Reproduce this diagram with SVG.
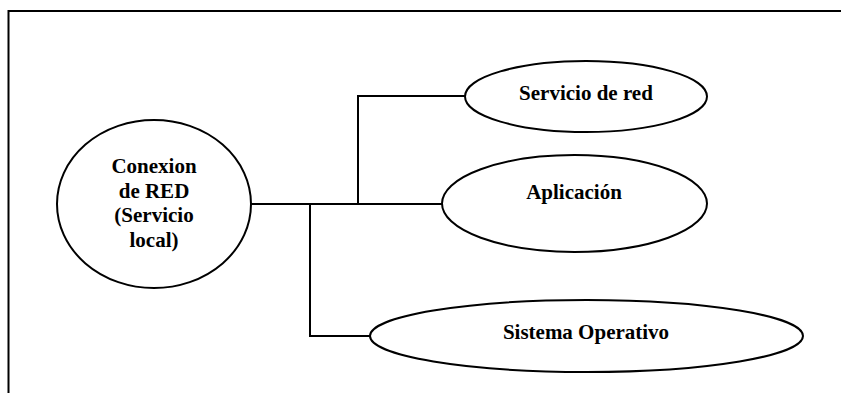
<svg xmlns="http://www.w3.org/2000/svg" width="841" height="393" viewBox="0 0 841 393">
<style>
.n{fill:#fff;stroke:#000;stroke-width:2}
.t{font-weight:bold;font-size:21px;fill:#000;text-anchor:middle}
.c{fill:none;stroke:#000;stroke-width:2}
</style>
<rect width="841" height="393" fill="#fff"/>
<g id="frame"><path class="c" d="M8.5 393V11H841"/></g>
<g id="connectors">
<path class="c" d="M251 204H442"/>
<path class="c" d="M358 204V96H466"/>
<path class="c" d="M310 204V336H371"/>
</g>
<g font-family="Liberation Serif, DejaVu Serif, serif">
<g id="conexion">
<ellipse class="n" cx="154" cy="204" rx="97" ry="84"/>
<text class="t" x="154" y="173">Conexion</text>
<text class="t" x="154" y="197.5">de RED</text>
<text class="t" x="154" y="222">(Servicio</text>
<text class="t" x="154" y="246.5">local)</text>
</g>
<g id="servicio">
<ellipse class="n" cx="586" cy="96.5" rx="121" ry="35.5"/>
<text class="t" x="586" y="99.5">Servicio de red</text>
</g>
<g id="aplicacion">
<ellipse class="n" cx="574.5" cy="203.5" rx="132.5" ry="48.5"/>
<text class="t" x="574" y="198.5">Aplicación</text>
</g>
<g id="sistema">
<ellipse class="n" cx="586.5" cy="336" rx="216.5" ry="36"/>
<text class="t" x="586" y="338.5">Sistema Operativo</text>
</g>
</g>
</svg>
